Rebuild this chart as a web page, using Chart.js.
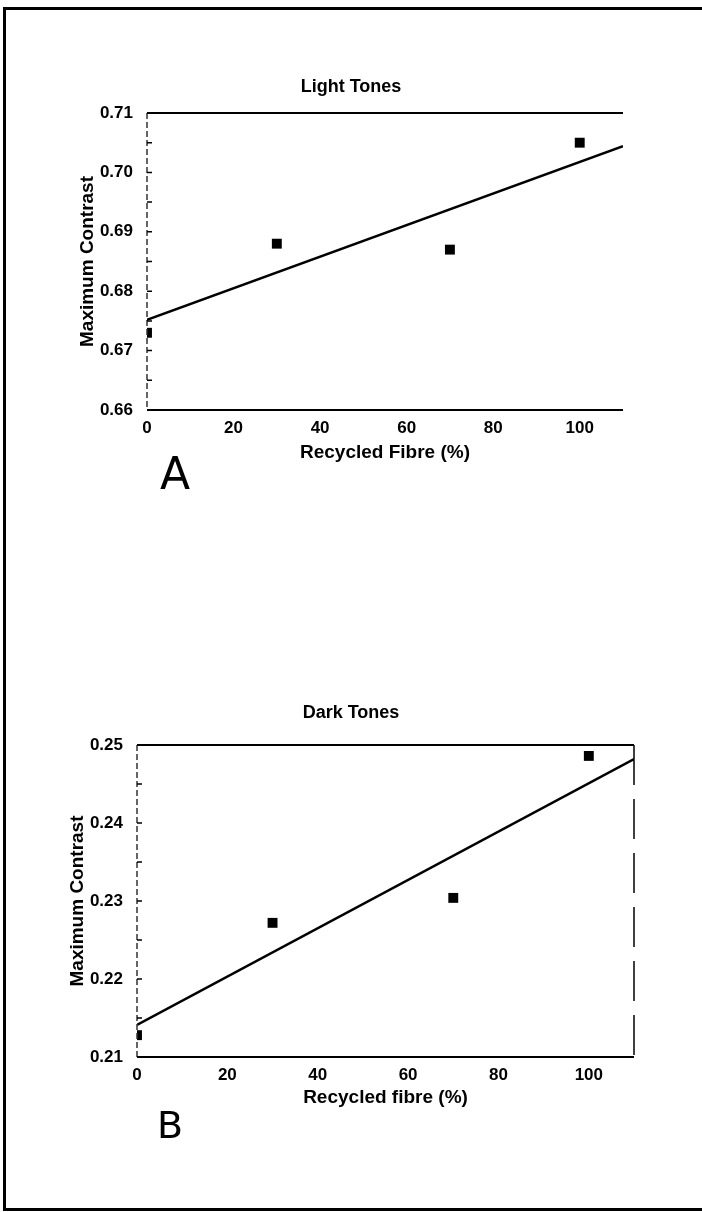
<!DOCTYPE html>
<html>
<head>
<meta charset="utf-8">
<script src="https://cdn.jsdelivr.net/npm/chart.js@4.4.1/dist/chart.umd.min.js"></script>
<style>
  body{margin:0;background:#fff;}
  #page{position:relative;width:702px;height:1212px;overflow:hidden;background:#fff;}
  #frame{position:absolute;left:3px;top:7px;width:720px;height:1198px;border-left:3px solid #000;border-top:3px solid #000;border-bottom:3px solid #000;}
  canvas{position:absolute;left:0;}
  .tag{position:absolute;font-family:"DejaVu Sans";color:#000;line-height:1;}
</style>
</head>
<body>
<div id="page">
  <div id="frame"></div>
  <canvas id="chartA" width="702" height="500" style="top:0px"></canvas>
  <canvas id="chartB" width="702" height="600" style="top:600px"></canvas>
  <div class="tag" id="tagA" style="left:160px;top:452px;font-size:44px;">A</div>
  <div class="tag" id="tagB" style="left:157px;top:1106px;font-size:38px;">B</div>
</div>
<script>
// ==============================
// DATA
// ==============================
const fibre         = [0, 30, 70, 100];
const lightContrast = [0.673, 0.688, 0.687, 0.705];
const darkContrast  = [0.2128, 0.2272, 0.2304, 0.2486];

// fitted straight lines (end points)
const fitFibre = [0, 110];
const lightFit = [0.6752, 0.7044];
const darkFit  = [0.2141, 0.2482];

const xTicks      = [0, 20, 40, 60, 80, 100];
const yTicksLight = [0.66, 0.67, 0.68, 0.69, 0.70, 0.71];
const yTicksDark  = [0.21, 0.22, 0.23, 0.24, 0.25];

const FONT = "'Liberation Sans', Arial, sans-serif";

// ==============================
// FRAME PLUGIN (box, dashed y axis, inward ticks)
// ==============================
const framePlugin = {
    id: "frame",
    afterDatasetsDraw(chart, args, opts){
        const {ctx, chartArea: a, scales} = chart;
        ctx.save();
        ctx.strokeStyle = "#000";
        ctx.lineWidth = 2;
        ctx.beginPath();
        ctx.moveTo(a.left, a.top);    ctx.lineTo(a.right, a.top);
        ctx.moveTo(a.left, a.bottom); ctx.lineTo(a.right, a.bottom);
        ctx.stroke();

        // right side, broken
        if(opts.right){
            ctx.lineWidth = 1.5;
            ctx.setLineDash(opts.right);
            ctx.beginPath();
            ctx.moveTo(a.right, a.top); ctx.lineTo(a.right, a.bottom);
            ctx.stroke();
        }

        // left axis, dashed
        ctx.setLineDash([6, 3]);
        ctx.lineWidth = 1.5;
        ctx.strokeStyle = "#333";
        ctx.beginPath();
        ctx.moveTo(a.left, a.top); ctx.lineTo(a.left, a.bottom);
        ctx.stroke();
        ctx.setLineDash([]);

        // -- inward tick marks, majors and halves --
        const y = scales.y;
        const vals = y.ticks.map(t => t.value);
        const marks = [];
        vals.forEach((v, i) => {
            marks.push(v);
            if(i < vals.length - 1) marks.push((v + vals[i+1]) / 2);
        });
        ctx.strokeStyle = "#000";
        ctx.lineWidth = 1.5;
        ctx.beginPath();
        marks.forEach(v => {
            const py = y.getPixelForValue(v);
            ctx.moveTo(a.left, py);
            ctx.lineTo(a.left + 5, py);
        });
        ctx.stroke();
        ctx.restore();
    }
};

// ==============================
// CHART BUILDER
// ==============================
function makeChart(id, cfg){
    const points = fibre.map((x, i) => ({x: x, y: cfg.values[i]}));
    const line   = fitFibre.map((x, i) => ({x: x, y: cfg.fit[i]}));

    return new Chart(document.getElementById(id), {
        type: "scatter",
        data: {
            datasets: [
                {
                    data: points,
                    pointStyle: "rect",
                    pointRadius: 7,
                    backgroundColor: "#000",
                    borderColor: "#000",
                    borderWidth: 0
                },
                {
                    type: "line",
                    data: line,
                    borderColor: "#000",
                    borderWidth: 2.5,
                    pointRadius: 0,
                    fill: false
                }
            ]
        },
        plugins: [framePlugin],
        options: {
            responsive: false,
            animation: false,
            devicePixelRatio: 1,
            layout: { padding: { top: cfg.padTop, bottom: cfg.padBottom, left: 0, right: 0 } },
            plugins: {
                legend: { display: false },
                tooltip: { enabled: false },
                title: {
                    display: true,
                    text: cfg.title,
                    color: "#000",
                    font: { family: FONT, size: 18, weight: "bold" },
                    padding: { top: 0, bottom: cfg.titleGap }
                },
                frame: { right: cfg.rightDash }
            },
            scales: {
                x: {
                    type: "linear",
                    min: 0,
                    max: 110,
                    afterBuildTicks: s => { s.ticks = xTicks.map(v => ({value: v})); },
                    afterFit: s => { s.height = cfg.xHeight; },
                    grid: { display: false, drawTicks: false },
                    border: { display: false },
                    ticks: {
                        color: "#000",
                        padding: 8,
                        font: { family: FONT, size: 17, weight: "bold" }
                    },
                    title: {
                        display: true,
                        text: cfg.xTitle,
                        color: "#000",
                        padding: 0,
                        font: { family: FONT, size: 19, weight: "bold" }
                    }
                },
                y: {
                    type: "linear",
                    min: cfg.yTicks[0],
                    max: cfg.yTicks[cfg.yTicks.length - 1],
                    afterBuildTicks: s => { s.ticks = cfg.yTicks.map(v => ({value: v})); },
                    afterFit: s => { s.width = cfg.left; },
                    grid: { display: false, drawTicks: false },
                    border: { display: false },
                    ticks: {
                        color: "#000",
                        padding: 14,
                        font: { family: FONT, size: 17, weight: "bold" },
                        callback: v => v.toFixed(2)
                    },
                    title: {
                        display: true,
                        text: "Maximum Contrast",
                        color: "#000",
                        padding: { top: cfg.yTitleX - 11.4, bottom: 0 },
                        font: { family: FONT, size: 19, weight: "bold" }
                    }
                },
                // empty right axis keeps the plot clear of the right edge
                yR: {
                    type: "linear",
                    position: "right",
                    display: true,
                    grid: { display: false },
                    border: { display: false },
                    ticks: { display: false },
                    afterFit: s => { s.width = cfg.rightGap; }
                }
            }
        }
    });
}

// ==============================
// CHARTS
// ==============================
makeChart("chartA", {
    title: "Light Tones",
    xTitle: "Recycled Fibre (%)",
    values: lightContrast,
    fit: lightFit,
    yTicks: yTicksLight,
    padTop: 76.2,
    titleGap: 15.2,
    padBottom: 35.6,
    xHeight: 54.4,
    left: 147,
    rightGap: 79,
    yTitleX: 88,
    rightDash: null
});

makeChart("chartB", {
    title: "Dark Tones",
    xTitle: "Recycled fibre (%)",
    values: darkContrast,
    fit: darkFit,
    yTicks: yTicksDark,
    padTop: 102.2,
    titleGap: 21.2,
    padBottom: 90.6,
    xHeight: 52.4,
    left: 137,
    rightGap: 68,
    yTitleX: 78,
    rightDash: [40, 14]
});
</script>
</body>
</html>
